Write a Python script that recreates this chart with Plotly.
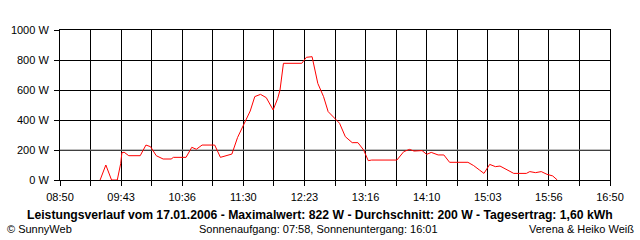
import plotly.graph_objects as go
from datetime import datetime, timedelta

DATE = "2006-01-17"
times = ["09:25", "09:30", "09:35", "09:40", "09:43", "09:44", "09:46", "09:50", "10:00", "10:05",
         "10:09", "10:14", "10:20", "10:27", "10:29", "10:40", "10:45", "10:49", "10:54", "11:05",
         "11:10", "11:15", "11:20", "11:25", "11:30", "11:36", "11:40", "11:45", "11:50", "11:56",
         "12:00", "12:02", "12:05", "12:21", "12:25", "12:30", "12:35", "12:40", "12:44", "12:47",
         "12:50", "12:54", "12:59", "13:05", "13:10", "13:15", "13:19", "13:22", "13:44", "13:50",
         "13:55", "13:59", "14:06", "14:10", "14:14", "14:20", "14:25", "14:30", "14:46", "14:51",
         "14:56", "15:00", "15:05", "15:10", "15:14", "15:19", "15:26", "15:37", "15:40", "15:45",
         "15:50", "15:55", "16:00", "16:04"]
watts = [0, 100, 0, 0, 111, 182, 185, 162, 162, 233,
         222, 162, 140, 140, 151, 151, 218, 205, 233, 233,
         151, 160, 173, 284, 367, 460, 556, 571, 549, 467,
         544, 600, 778, 778, 818, 822, 644, 556, 456, 433,
         411, 378, 289, 249, 249, 200, 129, 133, 133, 189,
         204, 193, 196, 171, 184, 167, 167, 118, 118, 96,
         67, 44, 104, 89, 93, 71, 44, 44, 56, 49,
         56, 38, 27, 0]
x_labels = ["08:50", "09:43", "10:36", "11:30", "12:23", "13:16", "14:10", "15:03", "15:56", "16:50"]
y_ticks = [0, 200, 400, 600, 800, 1000]
y_labels = ["0 W", "200 W", "400 W", "600 W", "800 W", "1000 W"]
average = 200

title_text = "Leistungsverlauf vom 17.01.2006 - Maximalwert: 822 W - Durchschnitt: 200 W - Tagesertrag: 1,60 kWh"
left_text = "© SunnyWeb"
mid_text = "Sonnenaufgang: 07:58, Sonnenuntergang: 16:01"
right_text = "Verena & Heiko Weiß"

def dt(hm):
    return datetime.strptime(DATE + " " + hm, "%Y-%m-%d %H:%M")

xs = [dt(t) for t in times]
start, end = dt(x_labels[0]), dt(x_labels[-1])
n = 2 * (len(x_labels) - 1)
step = (end - start) / n
tickvals = [start + step * i for i in range(n + 1)]
ticktext = [x_labels[i // 2] if i % 2 == 0 else "" for i in range(n + 1)]

FONT = "Liberation Sans"
fig = go.Figure()
fig.add_trace(go.Scatter(x=[start, end], y=[average, average], mode="lines",
                         line=dict(color="#808080", width=1), hoverinfo="skip"))
fig.add_trace(go.Scatter(x=xs, y=watts, mode="lines",
                         line=dict(color="#ff0000", width=1)))

fig.update_layout(
    width=640, height=240,
    margin=dict(l=60, r=30, t=30, b=60),
    paper_bgcolor="white", plot_bgcolor="white",
    showlegend=False,
    font=dict(family=FONT, size=11, color="black"),
    xaxis=dict(range=[start, end], tickvals=tickvals, ticktext=ticktext,
               showgrid=True, gridcolor="black", gridwidth=1,
               showline=True, linecolor="black", linewidth=1, mirror=True,
               ticks="outside", ticklen=5, tickcolor="black", ticklabelstandoff=2,
               tickangle=0, tickfont=dict(family=FONT, size=11, color="black")),
    yaxis=dict(range=[0, 1000], tickvals=y_ticks, ticktext=y_labels,
               showgrid=True, gridcolor="black", gridwidth=1,
               zeroline=True, zerolinecolor="black", zerolinewidth=1,
               showline=True, linecolor="black", linewidth=1, mirror=True,
               ticks="outside", ticklen=5, tickcolor="black", ticklabelstandoff=3,
               tickfont=dict(family=FONT, size=11, color="black")),
    annotations=[
        dict(text="<b>" + title_text + "</b>", xref="paper", yref="paper",
             x=(320 - 60) / 550, y=(180 - 215) / 150, xanchor="center", yanchor="middle",
             showarrow=False, font=dict(family=FONT, size=12.2, color="black")),
        dict(text=left_text, xref="paper", yref="paper",
             x=(5 - 60) / 550, y=(180 - 229) / 150, xanchor="left", yanchor="middle",
             showarrow=False, font=dict(family=FONT, size=11, color="black")),
        dict(text=mid_text, xref="paper", yref="paper",
             x=(318 - 60) / 550, y=(180 - 229) / 150, xanchor="center", yanchor="middle",
             showarrow=False, font=dict(family=FONT, size=11, color="black")),
        dict(text=right_text, xref="paper", yref="paper",
             x=(636 - 60) / 550, y=(180 - 229) / 150, xanchor="right", yanchor="middle",
             showarrow=False, font=dict(family=FONT, size=11, color="black")),
    ],
)
fig.write_html("out.html")
